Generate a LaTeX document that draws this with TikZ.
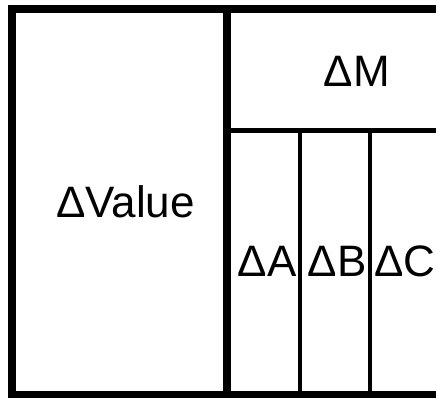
\documentclass[tikz,border=0pt]{standalone}
\usepackage{fontspec}
\setmainfont{Liberation Sans}
\begin{document}
\begin{tikzpicture}[x=1pt,y=-1pt,
  lbl/.style={anchor=base,inner sep=0pt,font=\fontsize{44}{50}\selectfont},
  thickline/.style={line width=7.6pt},
  midline/.style={line width=4.2pt}]
\useasboundingbox (0,0) rectangle (436,398);
\clip (0,0) rectangle (436,398);
\coordinate (tl) at (11.8,8.8);
\coordinate (bl) at (11.8,394.8);
\coordinate (tr) at (520,8.8);
\coordinate (br) at (520,394.8);
\coordinate (mt) at (227.2,8.8);
\coordinate (mb) at (227.2,394.8);
\coordinate (hl) at (227.2,130.5);
\coordinate (hr) at (520,130.5);
\coordinate (at) at (300.3,130.5);
\coordinate (ab) at (300.3,394.8);
\coordinate (bt) at (370.3,130.5);
\coordinate (bb) at (370.3,394.8);
\draw[thickline] (tr) -- (tl) -- (bl) -- (br);
\draw[thickline] (mt) -- (mb);
\draw[midline] (hl) -- (hr);
\draw[midline] (at) -- (ab);
\draw[midline] (bt) -- (bb);
\node[lbl] (value) at (125.5,217.7) {ΔValue};
\node[lbl] (m) at (357,86.7) {ΔM};
\node[lbl] (a) at (267,276.7) {ΔA};
\node[lbl] (b) at (337,276.7) {ΔB};
\node[lbl] (c) at (404.7,276.7) {ΔC};
\end{tikzpicture}
\end{document}
